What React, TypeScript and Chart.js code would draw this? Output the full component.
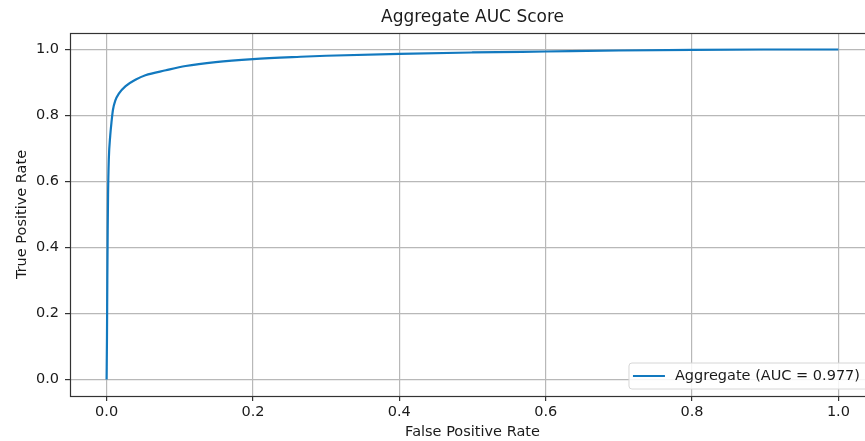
import React, { useEffect, useRef } from "react";
import { Chart, registerables } from "chart.js";

Chart.register(...registerables);

const fpr = [0, 0.0005, 0.001, 0.0015, 0.002, 0.003, 0.005, 0.007, 0.0086, 0.012, 0.017, 0.026, 0.04, 0.053, 0.081, 0.108, 0.149, 0.2, 0.265, 0.3, 0.4, 0.5, 0.6, 0.7, 0.8, 0.9, 1.0];
const tpr = [0, 0.12, 0.3, 0.45, 0.56, 0.665, 0.74, 0.786, 0.816, 0.846, 0.867, 0.889, 0.909, 0.922, 0.937, 0.95, 0.962, 0.971, 0.978, 0.981, 0.987, 0.991, 0.994, 0.997, 0.999, 1.0, 1.0];
const xTicks = [0, 0.2, 0.4, 0.6, 0.8, 1.0];
const yTicks = [0, 0.2, 0.4, 0.6, 0.8, 1.0];
const seriesLabel = "Aggregate (AUC = 0.977)";
const titleText = "Aggregate AUC Score";
const xTitle = "False Positive Rate";
const yTitle = "True Positive Rate";

const FONT = "'DejaVu Sans', sans-serif";
const LINE_COLOR = "#1279bf";
const TEXT = "#1a1a1a";

const framePlugin = {
  id: "frame",
  afterDraw(chart: any) {
    const { ctx, chartArea: a } = chart;
    ctx.save();
    // title centred over the axes
    ctx.font = `17px ${FONT}`;
    ctx.fillStyle = TEXT;
    ctx.textAlign = "center";
    ctx.textBaseline = "middle";
    ctx.fillText(titleText, (a.left + a.right) / 2, a.top - 15);

    ctx.strokeStyle = "#333";
    ctx.lineWidth = 1.2;
    ctx.strokeRect(Math.round(a.left) + 0.5, Math.round(a.top) + 0.5, Math.round(a.right - a.left), Math.round(a.bottom - a.top));
    // legend
    const label = chart.data.datasets[0].label;
    ctx.font = `14.5px ${FONT}`;
    const tw = ctx.measureText(label).width;
    const boxRight = a.right - 7;
    const boxBottom = a.bottom - 7;
    const boxH = 26;
    const textEnd = boxRight - 8;
    const textStart = textEnd - tw;
    const lineEnd = textStart - 10;
    const lineStart = lineEnd - 32;
    const boxLeft = lineStart - 4;
    const boxTop = boxBottom - boxH;
    ctx.beginPath();
    const r = 3;
    ctx.moveTo(boxLeft + r, boxTop);
    ctx.lineTo(boxRight - r, boxTop);
    ctx.quadraticCurveTo(boxRight, boxTop, boxRight, boxTop + r);
    ctx.lineTo(boxRight, boxBottom - r);
    ctx.quadraticCurveTo(boxRight, boxBottom, boxRight - r, boxBottom);
    ctx.lineTo(boxLeft + r, boxBottom);
    ctx.quadraticCurveTo(boxLeft, boxBottom, boxLeft, boxBottom - r);
    ctx.lineTo(boxLeft, boxTop + r);
    ctx.quadraticCurveTo(boxLeft, boxTop, boxLeft + r, boxTop);
    ctx.closePath();
    ctx.fillStyle = "rgba(255,255,255,0.85)";
    ctx.fill();
    ctx.strokeStyle = "#d6d6d6";
    ctx.lineWidth = 1;
    ctx.stroke();
    const cy = boxTop + boxH / 2;
    ctx.beginPath();
    ctx.moveTo(lineStart, cy);
    ctx.lineTo(lineEnd, cy);
    ctx.strokeStyle = LINE_COLOR;
    ctx.lineWidth = 2.2;
    ctx.stroke();
    ctx.fillStyle = TEXT;
    ctx.textBaseline = "middle";
    ctx.textAlign = "left";
    ctx.fillText(label, textStart, cy + 0.5);
    ctx.restore();
  },
};

export default function App() {
  const ref = useRef<HTMLCanvasElement | null>(null);
  useEffect(() => {
    if (!ref.current) return;
    const chart = new Chart(ref.current, {
      type: "line",
      data: {
        datasets: [
          {
            label: seriesLabel,
            data: fpr.map((x, i) => ({ x, y: tpr[i] })),
            borderColor: LINE_COLOR,
            borderWidth: 2.2,
            pointRadius: 0,
            cubicInterpolationMode: "monotone",
            fill: false,
          },
        ],
      },
      options: {
        responsive: false,
        animation: false,
        devicePixelRatio: 1,
        layout: { padding: { left: 0, right: 15, top: 33, bottom: 0 } },
        plugins: {
          legend: { display: false },
          tooltip: { enabled: false },
          title: { display: false },
        },
        scales: {
          x: {
            type: "linear",
            min: -0.05,
            max: 1.05,
            afterBuildTicks: (s: any) => {
              s.ticks = xTicks.map((v) => ({ value: v }));
            },
            afterFit: (s: any) => {
              s.height = 45;
            },
            border: { display: false },
            grid: { color: "#b8b8b8", lineWidth: 1.2, tickColor: "#333", tickLength: 5 },
            ticks: {
              color: TEXT,
              font: { family: FONT, size: 14.5 },
              padding: 3,
              maxRotation: 0,
              callback: (v: any) => Number(v).toFixed(1),
            },
            title: {
              display: true,
              text: xTitle,
              color: TEXT,
              font: { family: FONT, size: 14.5 },
              padding: { top: 0, bottom: 0 },
            },
          },
          y: {
            type: "linear",
            min: -0.05,
            max: 1.05,
            afterBuildTicks: (s: any) => {
              s.ticks = yTicks.map((v) => ({ value: v }));
            },
            afterFit: (s: any) => {
              s.width = 70;
            },
            border: { display: false },
            grid: { color: "#b8b8b8", lineWidth: 1.2, tickColor: "#333", tickLength: 5 },
            ticks: {
              color: TEXT,
              font: { family: FONT, size: 14.5 },
              padding: 6,
              callback: (v: any) => Number(v).toFixed(1),
            },
            title: {
              display: true,
              text: yTitle,
              color: TEXT,
              font: { family: FONT, size: 14.5 },
              padding: { top: 14, bottom: 0 },
            },
          },
        },
      },
      plugins: [framePlugin],
    });
    return () => chart.destroy();
  }, []);
  return (
    <div style={{ position: "fixed", left: 0, top: 0, width: 865, height: 441, overflow: "hidden", background: "#fff" }}>
      <canvas ref={ref} width={890} height={441} style={{ display: "block" }} />
    </div>
  );
}
